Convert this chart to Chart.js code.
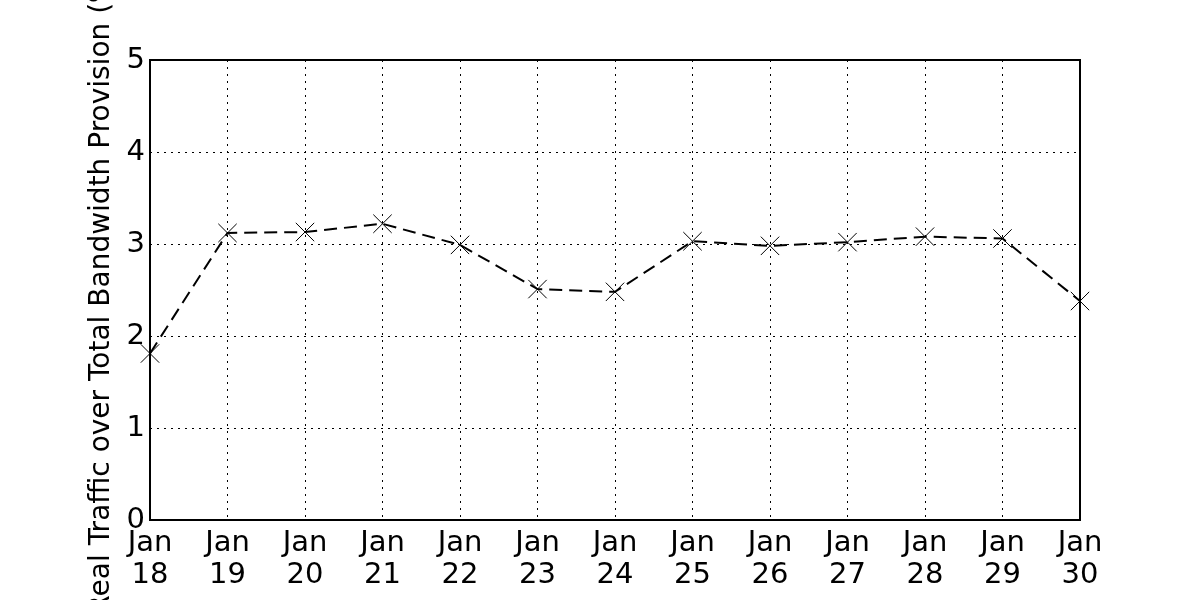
<!DOCTYPE html>
<html>
<head>
<meta charset="utf-8">
<script src="https://cdn.jsdelivr.net/npm/chart.js@4/dist/chart.umd.min.js"></script>
<style>
  html, body { margin: 0; padding: 0; background: #fff; }
  #wrap { width: 1200px; height: 600px; }
</style>
</head>
<body>
<div id="wrap"><canvas id="chart" width="1200" height="600"></canvas></div>
<script>
// Data
var days = ['18', '19', '20', '21', '22', '23', '24', '25', '26', '27', '28', '29', '30'];
var month = 'Jan';
var ratio = [1.81, 3.12, 3.13, 3.22, 2.99, 2.51, 2.48, 3.03, 2.98, 3.02, 3.08, 3.06, 2.38];
var yTicks = [0, 1, 2, 3, 4, 5];
var yTitle = 'Real Traffic over Total Bandwidth Provision (%)';

var labels = days.map(function(d) { return [month, d]; });
var FONT = 'DejaVu Sans';

// Frame around the plot area (matplotlib style box)
var frame = {
    id: 'frame',
    afterDatasetsDraw: function(chart) {
        var a = chart.chartArea, ctx = chart.ctx;
        ctx.save();
        ctx.strokeStyle = '#000';
        ctx.lineWidth = 2;
        ctx.setLineDash([]);
        ctx.strokeRect(a.left, a.top, a.right - a.left, a.bottom - a.top);
        ctx.restore();
    }
};

new Chart(document.getElementById('chart'), {
    type: 'line',
    data: {
        labels: labels,
        datasets: [{
            data: ratio,
            borderColor: '#000',
            borderWidth: 2,
            borderDash: [13, 7],
            fill: false,
            tension: 0,
            pointStyle: 'crossRot',
            pointRadius: 13,
            pointBorderWidth: 1,
            pointBorderColor: '#000',
            pointBackgroundColor: '#000',
            clip: false
        }]
    },
    options: {
        responsive: false,
        animation: false,
        layout: { padding: { left: 81, top: 60, right: 120, bottom: 0 } },
        plugins: { legend: { display: false }, tooltip: { enabled: false } },
        scales: {
            x: {
                type: 'category',
                offset: false,
                grid: { color: '#000', lineWidth: 1, drawTicks: false },
                border: { display: false, dash: [2, 5] },
                ticks: {
                    color: '#000',
                    font: { family: FONT, size: 29, lineHeight: 1.1 },
                    padding: 8,
                    maxRotation: 0,
                    autoSkip: false
                },
                afterFit: function(scale) { scale.height = 80; }
            },
            y: {
                min: 0,
                max: 5,
                afterBuildTicks: function(scale) {
                    scale.ticks = yTicks.map(function(v) { return { value: v }; });
                },
                grid: { color: '#000', lineWidth: 1, drawTicks: false },
                border: { display: false, dash: [2, 5] },
                ticks: {
                    color: '#000',
                    font: { family: FONT, size: 29 },
                    padding: 5
                },
                title: {
                    display: true,
                    text: yTitle,
                    color: '#000',
                    font: { family: FONT, size: 28 },
                    padding: 4
                },
                afterFit: function(scale) { scale.width = 69; }
            }
        }
    },
    plugins: [frame]
});
</script>
</body>
</html>
